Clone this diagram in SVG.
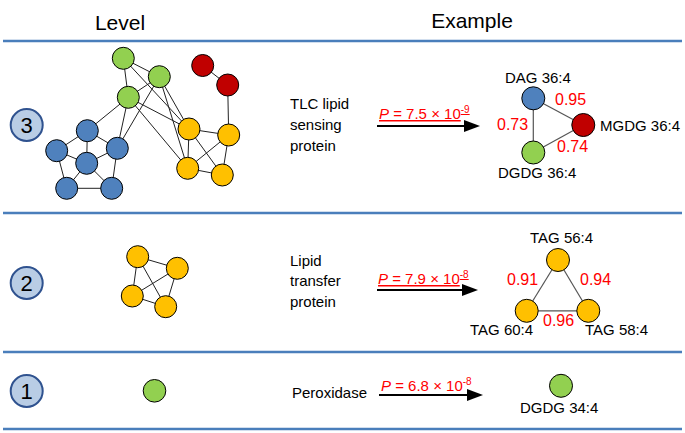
<svg xmlns="http://www.w3.org/2000/svg" width="685" height="433" viewBox="0 0 685 433">
<style>
.sep{stroke:#4A7EBB;stroke-width:2.5}
.lv circle{fill:#B9CDE5;stroke:#2F528F;stroke-width:2}
.lv text{font-size:22px;text-anchor:middle}
.g{fill:#92D050}.b{fill:#4F81BD}.r{fill:#C00000}.y{fill:#FFC000}
.nd circle{stroke:#000;stroke-width:1}
.e line{stroke:#222;stroke-width:1}
.ex line{stroke:#555;stroke-width:1.2}
text{font-family:"Liberation Sans",Arial,sans-serif;fill:#000}
.h{font-size:21px;text-anchor:middle}
.t{font-size:15px}
.num{font-size:16px;fill:#FF0000}
.p{font-size:15px;fill:#FF0000}
.ul{text-decoration:underline}
.arr{stroke:#000;stroke-width:2}
</style>
<defs>
<marker id="ah" viewBox="0 0 16 12" refX="0" refY="6" markerWidth="16" markerHeight="12" markerUnits="userSpaceOnUse" orient="auto">
<path d="M0,0 L16,6 L0,12 z" fill="#000"/>
</marker>
</defs>
<rect width="685" height="433" fill="#fff"/>
<g id="headers">
<text class="h" x="120" y="30">Level</text>
<text class="h" x="472" y="28">Example</text>
</g>
<g id="separators">
<line class="sep" x1="3" y1="41" x2="682" y2="41"/>
<line class="sep" x1="3" y1="213" x2="682" y2="213"/>
<line class="sep" x1="3" y1="352" x2="682" y2="352"/>
<line class="sep" x1="3" y1="429" x2="682" y2="429"/>
</g>
<g id="level3" class="lv"><circle cx="26.7" cy="125" r="16"/><text x="26.7" y="133">3</text></g>
<g id="level2" class="lv"><circle cx="26.7" cy="283" r="16"/><text x="26.7" y="291">2</text></g>
<g id="level1" class="lv"><circle cx="26.7" cy="391" r="16"/><text x="26.7" y="399">1</text></g>
<g id="connectors">
<g class="e">
<line x1="123.3" y1="58.3" x2="159.3" y2="76.7"/>
<line x1="123.3" y1="58.3" x2="128.3" y2="97.3"/>
<line x1="123.3" y1="58.3" x2="189" y2="129"/>
<line x1="159.3" y1="76.7" x2="128.3" y2="97.3"/>
<line x1="159.3" y1="76.7" x2="189" y2="129"/>
<line x1="159.3" y1="76.7" x2="187.7" y2="168.3"/>
<line x1="159.3" y1="76.7" x2="117.3" y2="148.3"/>
<line x1="128.3" y1="97.3" x2="87.3" y2="130.7"/>
<line x1="128.3" y1="97.3" x2="117.3" y2="148.3"/>
<line x1="128.3" y1="97.3" x2="189" y2="129"/>
<line x1="128.3" y1="97.3" x2="187.7" y2="168.3"/>
<line x1="202.7" y1="65.5" x2="227.7" y2="85"/>
<line x1="227.7" y1="85" x2="228.7" y2="135"/>
<line x1="87.3" y1="130.7" x2="56.7" y2="150.7"/>
<line x1="87.3" y1="130.7" x2="86.7" y2="163.3"/>
<line x1="87.3" y1="130.7" x2="117.3" y2="148.3"/>
<line x1="56.7" y1="150.7" x2="86.7" y2="163.3"/>
<line x1="56.7" y1="150.7" x2="66.7" y2="188.3"/>
<line x1="86.7" y1="163.3" x2="117.3" y2="148.3"/>
<line x1="86.7" y1="163.3" x2="66.7" y2="188.3"/>
<line x1="86.7" y1="163.3" x2="111.7" y2="188.3"/>
<line x1="117.3" y1="148.3" x2="111.7" y2="188.3"/>
<line x1="66.7" y1="188.3" x2="111.7" y2="188.3"/>
<line x1="189" y1="129" x2="228.7" y2="135"/>
<line x1="189" y1="129" x2="187.7" y2="168.3"/>
<line x1="189" y1="129" x2="222.3" y2="175"/>
<line x1="228.7" y1="135" x2="187.7" y2="168.3"/>
<line x1="228.7" y1="135" x2="222.3" y2="175"/>
<line x1="187.7" y1="168.3" x2="222.3" y2="175"/>
<line x1="137.7" y1="256.7" x2="177.3" y2="268.3"/>
<line x1="137.7" y1="256.7" x2="132.3" y2="296"/>
<line x1="137.7" y1="256.7" x2="165.7" y2="306.7"/>
<line x1="177.3" y1="268.3" x2="132.3" y2="296"/>
<line x1="177.3" y1="268.3" x2="165.7" y2="306.7"/>
<line x1="132.3" y1="296" x2="165.7" y2="306.7"/>
</g>
<g class="ex">
<line x1="533.3" y1="98.3" x2="533.3" y2="152.5"/>
<line x1="533.3" y1="98.3" x2="583.3" y2="125"/>
<line x1="533.3" y1="152.5" x2="583.3" y2="125"/>
<line x1="558" y1="260" x2="526.7" y2="310.8"/>
<line x1="558" y1="260" x2="588.3" y2="310.8"/>
<line x1="526.7" y1="310.8" x2="588.3" y2="310.8"/>
</g>
<line class="arr" x1="377" y1="126" x2="464" y2="126" marker-end="url(#ah)"/>
<line class="arr" x1="377" y1="290" x2="462" y2="290" marker-end="url(#ah)"/>
<line class="arr" x1="379" y1="395" x2="467" y2="395" marker-end="url(#ah)"/>
</g>
<g id="network3" class="nd">
<circle class="g" cx="123.3" cy="58.3" r="11"/>
<circle class="g" cx="159.3" cy="76.7" r="11"/>
<circle class="g" cx="128.3" cy="97.3" r="11"/>
<circle class="r" cx="202.7" cy="65.5" r="11"/>
<circle class="r" cx="227.7" cy="85" r="11"/>
<circle class="b" cx="87.3" cy="130.7" r="11"/>
<circle class="b" cx="56.7" cy="150.7" r="11"/>
<circle class="b" cx="86.7" cy="163.3" r="11"/>
<circle class="b" cx="117.3" cy="148.3" r="11"/>
<circle class="b" cx="66.7" cy="188.3" r="11"/>
<circle class="b" cx="111.7" cy="188.3" r="11"/>
<circle class="y" cx="189" cy="129" r="11"/>
<circle class="y" cx="228.7" cy="135" r="11"/>
<circle class="y" cx="187.7" cy="168.3" r="11"/>
<circle class="y" cx="222.3" cy="175" r="11"/>
</g>
<g id="network2" class="nd">
<circle class="y" cx="137.7" cy="256.7" r="11"/>
<circle class="y" cx="177.3" cy="268.3" r="11"/>
<circle class="y" cx="132.3" cy="296" r="11"/>
<circle class="y" cx="165.7" cy="306.7" r="11"/>
</g>
<g id="network1" class="nd">
<circle class="g" cx="154.5" cy="390.8" r="11.3"/>
</g>
<g id="protein3">
<text class="t" x="290" y="109">TLC lipid</text>
<text class="t" x="290" y="130">sensing</text>
<text class="t" x="290" y="151">protein</text>
<text class="p ul" x="379" y="119"><tspan font-style="italic">P</tspan> = 7.5 × 10<tspan dy="-6" font-size="10">-9</tspan></text>
</g>
<g id="protein2">
<text class="t" x="290" y="266">Lipid</text>
<text class="t" x="290" y="286">transfer</text>
<text class="t" x="290" y="307">protein</text>
<text class="p ul" x="378" y="284"><tspan font-style="italic">P</tspan> = 7.9 × 10<tspan dy="-6" font-size="10">-8</tspan></text>
</g>
<g id="protein1">
<text class="t" x="292" y="398">Peroxidase</text>
<text class="p" x="381" y="391"><tspan font-style="italic">P</tspan> = 6.8 × 10<tspan dy="-6" font-size="10">-8</tspan></text>
</g>
<g id="example3" class="nd">
<circle class="b" cx="533.3" cy="98.3" r="11.5"/>
<circle class="r" cx="583.3" cy="125" r="11.5"/>
<circle class="g" cx="533.3" cy="152.5" r="11.5"/>
<text class="t" x="505" y="83">DAG 36:4</text>
<text class="t" x="600" y="131">MGDG 36:4</text>
<text class="t" x="498" y="178">DGDG 36:4</text>
<text class="num" x="555" y="105">0.95</text>
<text class="num" x="497" y="130">0.73</text>
<text class="num" x="557" y="152">0.74</text>
</g>
<g id="example2" class="nd">
<circle class="y" cx="558" cy="260" r="11.5"/>
<circle class="y" cx="526.7" cy="310.8" r="11.5"/>
<circle class="y" cx="588.3" cy="310.8" r="11.5"/>
<text class="t" x="530" y="243">TAG 56:4</text>
<text class="t" x="470" y="335">TAG 60:4</text>
<text class="t" x="585" y="335">TAG 58:4</text>
<text class="num" x="507" y="285">0.91</text>
<text class="num" x="580" y="285">0.94</text>
<text class="num" x="543" y="326">0.96</text>
</g>
<g id="example1" class="nd">
<circle class="g" cx="561" cy="385.8" r="11.5"/>
<text class="t" x="520" y="413">DGDG 34:4</text>
</g>
</svg>
